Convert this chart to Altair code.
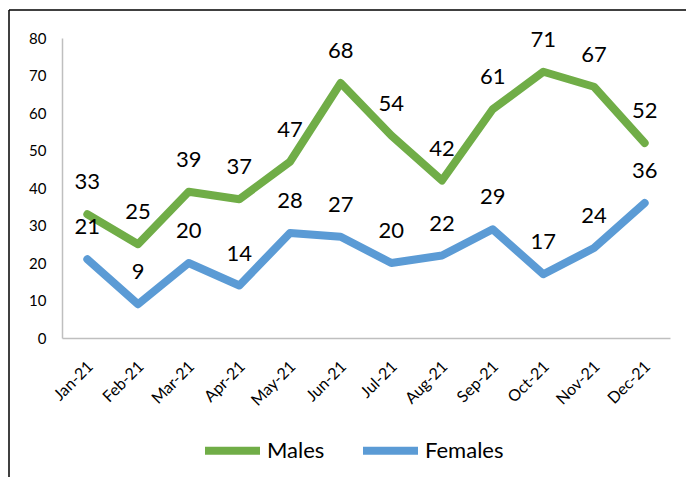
import altair as alt
import pandas as pd

months = ["Jan-21", "Feb-21", "Mar-21", "Apr-21", "May-21", "Jun-21",
          "Jul-21", "Aug-21", "Sep-21", "Oct-21", "Nov-21", "Dec-21"]
males = [33, 25, 39, 37, 47, 68, 54, 42, 61, 71, 67, 52]
females = [21, 9, 20, 14, 28, 27, 20, 22, 29, 17, 24, 36]
series = ["Males", "Females"]
colors = ["#70AD47", "#5B9BD5"]
y_ticks = [0, 10, 20, 30, 40, 50, 60, 70, 80]

rows = []
for m, v in zip(months, males):
    rows.append({"month": m, "value": v, "series": "Males"})
for m, v in zip(months, females):
    rows.append({"month": m, "value": v, "series": "Females"})
df = pd.DataFrame(rows)

FONT = "Lato"
W, H = 608, 300

x = alt.X("month:N", sort=months, title=None,
          axis=alt.Axis(labelAngle=-45, labelFontSize=16, labelColor="#000000",
                        labelFont=FONT, ticks=False, domainColor="#BFBFBF",
                        domainWidth=1.5, labelPadding=20, labelOffset=-3, grid=False,
                        labelOverlap=False))
y = alt.Y("value:Q", title=None, scale=alt.Scale(domain=[0, 80], nice=False),
          axis=alt.Axis(values=y_ticks, labelFontSize=15,
                        labelColor="#000000", labelFont=FONT, ticks=False,
                        domainColor="#BFBFBF", domainWidth=1.5, labelPadding=16,
                        grid=False, labelOverlap=False, labelFlush=False))
color = alt.Color("series:N", sort=series,
                  scale=alt.Scale(domain=series, range=colors),
                  legend=alt.Legend(title=None, orient="none", direction="horizontal",
                                    legendX=139, legendY=381, symbolType="stroke",
                                    symbolSize=3025, symbolStrokeWidth=8,
                                    labelFontSize=22, labelFont=FONT,
                                    labelColor="#000000", columnPadding=22,
                                    labelOffset=3))

lines = alt.Chart(df).mark_line(strokeWidth=8, strokeCap="round", strokeJoin="round").encode(
    x=x, y=y, color=color, detail="series:N")

labels = alt.Chart(df).mark_text(dy=-32, fontSize=22, font=FONT, color="#000000").encode(
    x=x, y=y, text="value:Q")

border_left = alt.Chart(pd.DataFrame({"a": [0]})).mark_rule(color="#000000", strokeWidth=1.5).encode(
    x=alt.value(-53), y=alt.value(-28), y2=alt.value(H + 140))
border_top = alt.Chart(pd.DataFrame({"a": [0]})).mark_rule(color="#000000", strokeWidth=1.5).encode(
    x=alt.value(-53), x2=alt.value(W + 20), y=alt.value(-28))

chart = alt.layer(lines, labels, border_left, border_top).properties(
    width=W, height=H,
    autosize=alt.AutoSizeParams(type="none"),
    padding={"left": 54, "top": 30, "right": 16, "bottom": 139},
).configure_view(stroke=None)

chart.save("out.html", embed_options={"renderer": "svg", "actions": False})
